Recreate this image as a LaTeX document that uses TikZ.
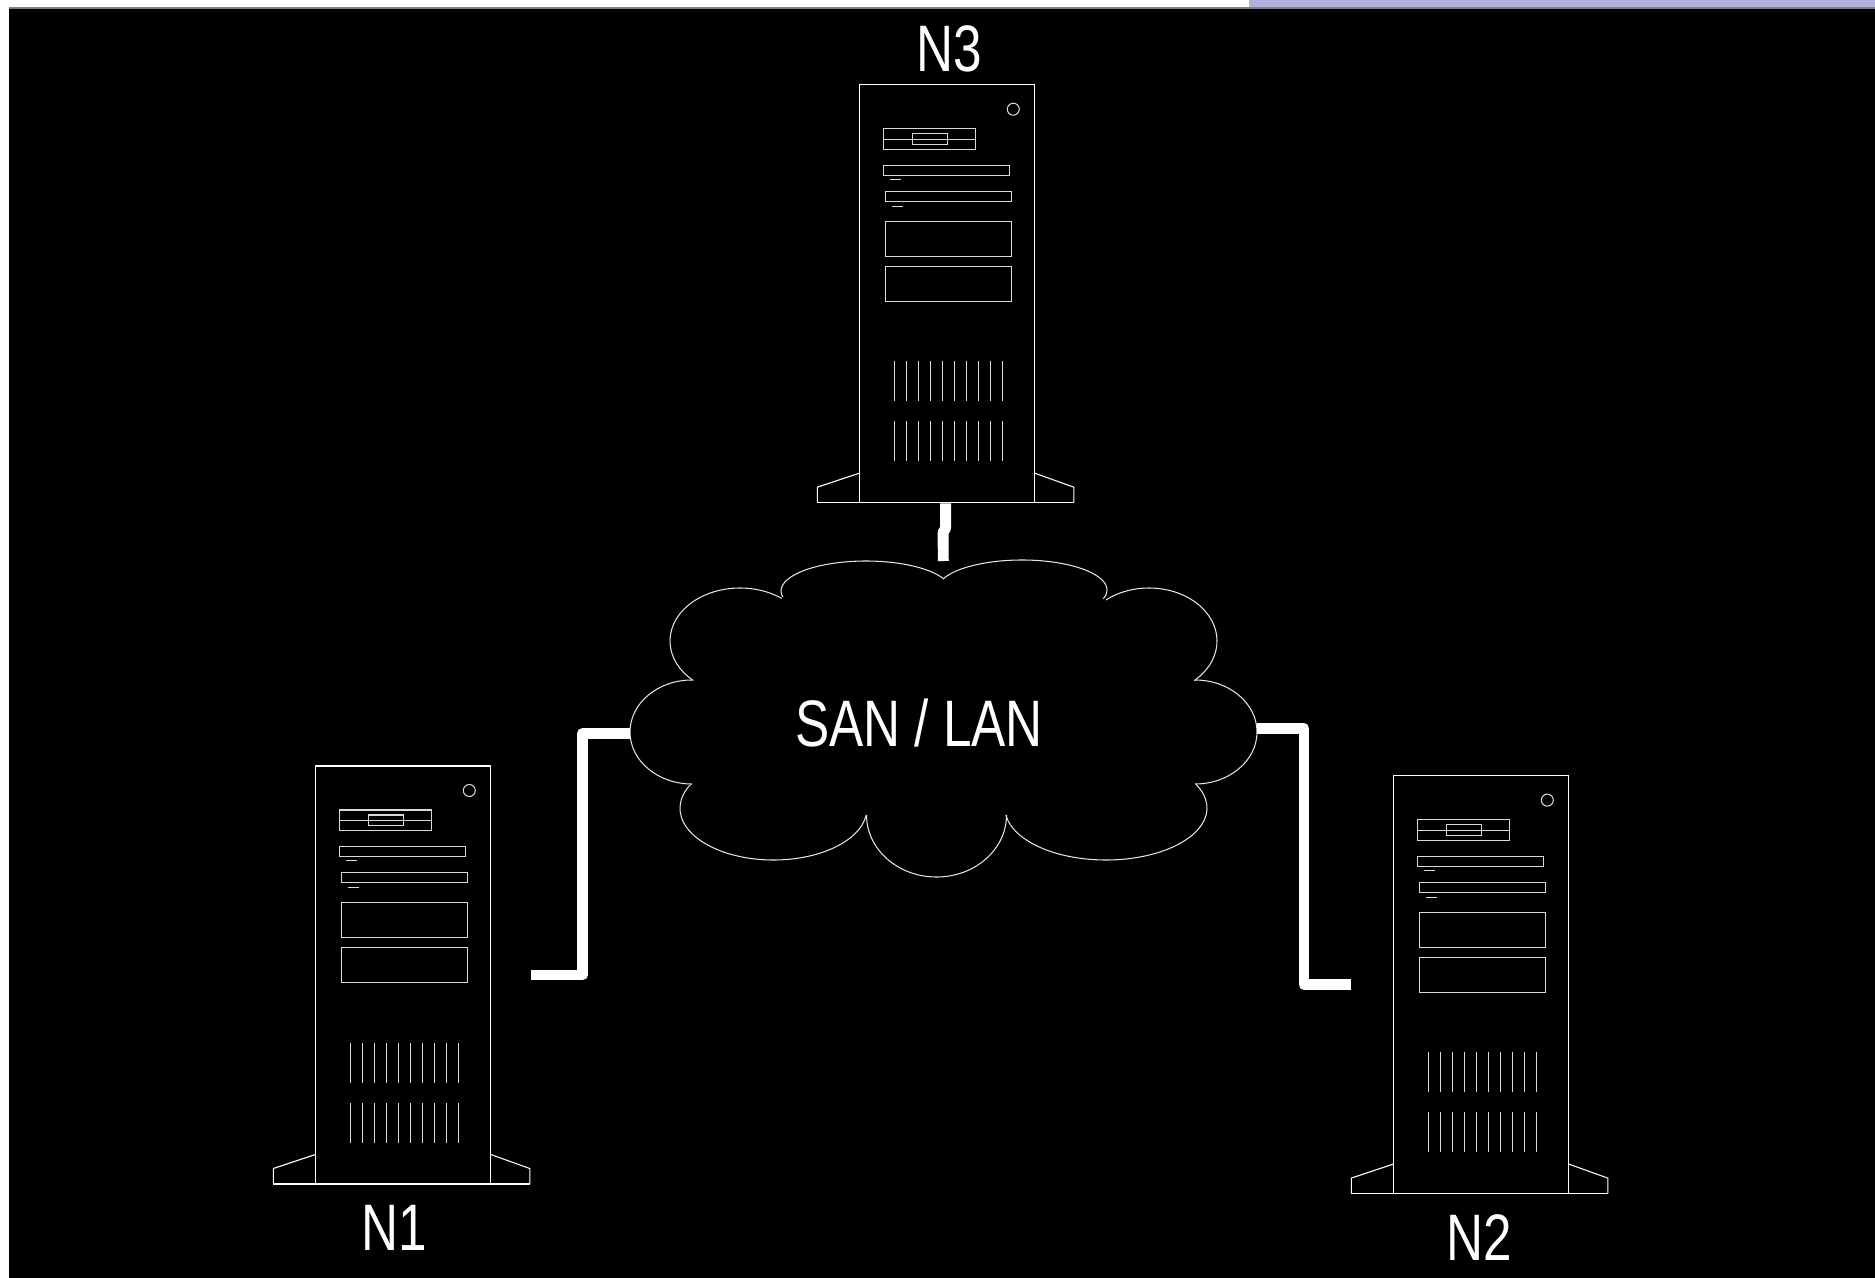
\documentclass[tikz,border=0pt]{standalone}
\usepackage{fontspec}
\newfontfamily\lblfont[FakeStretch=0.78]{Liberation Sans}
\definecolor{stripblue}{RGB}{176,176,218}

\tikzset{
  case/.style={draw=white, line width=0.3pt},
  part/.style={draw=white!85!black, line width=0.3pt},
  towerbox/.style={inner sep=0pt, minimum width=25.65mm, minimum height=41.8mm},
  link/.style={draw=white, line width=3.1pt, line join=round},
  cloudline/.style={draw=white!90!black, line width=0.3pt},
  lbl/.style={text=white, font=\lblfont\fontsize{18.7}{22}\selectfont, inner sep=0pt, anchor=base},
}

% one tower server, #1 = name, (#2,#3) = lower left corner of the case
\newcommand{\drawtower}[3]{%
  \begin{scope}[shift={(#2,#3)}]
    % case and feet
    \draw[case] (0,0) rectangle (175.5,-418);
    \draw[case] (-42,0) -- (-42,-15.5) -- (0,-29.5);
    \draw[case] (175.5,-29.5) -- (214.5,-15.5) -- (214.5,0);
    \draw[case] (-42,0) -- (214.5,0);
    \draw[part] (154,-393.5) circle [radius=6];
    % floppy
    \draw[part] (24.5,-353.5) rectangle (116.5,-374);
    \draw[part] (24.5,-363.5) -- (116.5,-363.5);
    \draw[part] (53.5,-358.5) rectangle (88,-369);
    % drive bays
    \draw[part] (24.5,-327.5) rectangle (150.5,-337.5);
    \draw[part] (30.5,-323.5) -- (41.5,-323.5);
    \draw[part] (26,-301.5) rectangle (152,-311.5);
    \draw[part] (32.5,-296.5) -- (43.5,-296.5);
    \draw[part] (26,-246.5) rectangle (152,-281.5);
    \draw[part] (26,-201.5) rectangle (152,-236.5);
    % vents
    \foreach \i in {0,...,9} {
      \draw[part] (35.5+12*\i,-101.5) -- (35.5+12*\i,-141.5);
      \draw[part] (35.5+12*\i,-41.5) -- (35.5+12*\i,-81.5);
    }
    \node[towerbox] (#1) at (86.25,-209) {};
  \end{scope}}

\begin{document}
\begin{tikzpicture}[x=0.1mm, y=-0.1mm]
  \useasboundingbox (0,0) rectangle (1875,1278);

  % background
  \fill[white] (0,0) rectangle (1875,1278);
  \fill[stripblue] (1249,0) rectangle (1875,8);
  \fill[black] (9,8.5) rectangle (1875,1278);
  \draw[gray, line width=0.3pt] (9,8) -- (1875,8);

  % servers
  \drawtower{n1}{315.3}{1184}
  \drawtower{n2}{1393.3}{1193.6}
  \drawtower{n3}{859.3}{502.7}

  % cloud, one elliptic arc per puff
  \foreach \cx/\cy/\rx/\ry/\a/\b in {866/591/85/30/168.2/336.5,
      1022/590/85/30/201.8/377, 1149/641/68/53/230.8/408.4,
      1195/732/62/52/270/450, 1106/808/101/52/333.2/532.2,
      936.5/815/70/62/0/180, 773.5/808.3/93.5/51.7/7.5/207.4,
      692/732/62/52/90/270, 740/641/70/53/131.8/306.5}
    \draw[cloudline] (\cx,\cy) ++({\rx*cos(\a)},{\ry*sin(\a)})
      arc [start angle=\a, end angle=\b, x radius=\rx, y radius=\ry];

  \node[lbl] (lan) at (919,746) {SAN / LAN};
  \coordinate (lanW) at (630,733.5);
  \coordinate (lanE) at (1256.5,728.5);
  \coordinate (lanN) at (943.3,561);

  % cables
  \draw[link] (n1.east) -- ++(52,0) |- (lanW);
  \draw[link] (lanE) -- ++(47.5,0) |- (n2.west);
  \draw[link] (n3.south) -- ++(0,25) -- ++(-2.5,4) -- (lanN);

  % names
  \node[lbl] (n1label) at (394.7,1250.7) {N1};
  \node[lbl] (n2label) at (1479.7,1260) {N2};
  \node[lbl] (n3label) at (949,71.5) {N3};
\end{tikzpicture}
\end{document}
